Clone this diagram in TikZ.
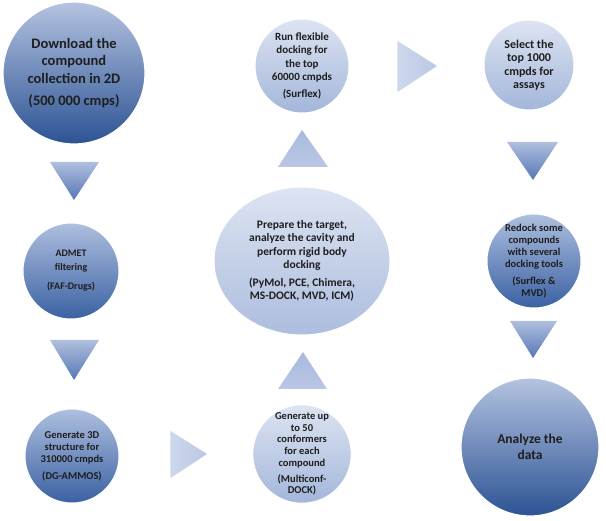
\documentclass[tikz,border=0pt]{standalone}
\usepackage{fontspec}
\setmainfont{Carlito}
\usepackage{tikz}
\usetikzlibrary{shapes.geometric}
\usepackage{xcolor}

\definecolor{darktop}{HTML}{B4C3E0}
\definecolor{darkbot}{HTML}{2C5394}
\definecolor{midtop}{HTML}{AEBFDF}
\definecolor{midbot}{HTML}{3A61A2}
\definecolor{lighttop}{HTML}{DDE4F2}
\definecolor{lightbot}{HTML}{A3B6DA}
\definecolor{tritop}{HTML}{AFBFDE}
\definecolor{tribot}{HTML}{5677B5}
\definecolor{trilight}{HTML}{B9C7E4}
\definecolor{triup}{HTML}{A9BADD}
\definecolor{txt}{HTML}{1E1E1E}

\begin{document}
\begin{tikzpicture}[x=1pt, y=-1pt,
  bigball/.style={circle, top color=darktop, bottom color=darkbot, draw=white, line width=1.2pt,
    align=center, text=txt, inner sep=0pt},
  midball/.style={circle, top color=midtop, bottom color=midbot, draw=white, line width=1pt,
    align=center, text=txt, inner sep=0pt, font=\bfseries\fontsize{10.5}{12}\selectfont},
  lightball/.style={circle, top color=lighttop, bottom color=lightbot, draw=white, line width=1pt,
    align=center, text=txt, inner sep=0pt, font=\bfseries\fontsize{11}{13.2}\selectfont},
  downtri/.style={top color=tritop, bottom color=tribot},
  uptri/.style={top color=triup, bottom color=trilight},
  sidetri/.style={left color=trilight!70!white, right color=trilight, draw=white, line width=0.8pt}]
  \useasboundingbox (0,0) rectangle (606,521);

  % left column
  \node[bigball, minimum size=142pt, font=\bfseries\fontsize{14.5}{17.5}\selectfont] (dl) at (74,73)
    {Download the\\compound\\collection in 2D\\[5pt](500 000 cmps)};
  \shade[downtri] (50,162) -- (99,162) -- (74,200) -- cycle;
  \node[midball, minimum size=96pt, font=\bfseries\fontsize{10}{14}\selectfont] (admet) at (71,271)
    {ADMET\\filtering\\[5pt](FAF-Drugs)};
  \shade[downtri] (50,340) -- (99,340) -- (74,380) -- cycle;
  \node[midball, minimum size=94pt] (gen3d) at (72,456)
    {Generate 3D\\structure for\\310000 cmpds\\[5pt](DG-AMMOS)};
  \shade[sidetri] (170,430) -- (208,454) -- (170,479) -- cycle;

  % middle column
  \node[lightball, minimum size=94pt, font=\bfseries\fontsize{10.5}{11.7}\selectfont] (conf) at (302,454)
    {Generate up\\to 50\\conformers\\for each\\compound\\[4pt](Multiconf-\\DOCK)};
  \shade[uptri] (278,389) -- (303,352) -- (327,389) -- cycle;
  \node[ellipse, top color=lighttop, bottom color=lightbot!90!white, draw=white, line width=1pt,
    minimum width=176pt, minimum height=148pt, inner sep=0pt, align=center, text=txt,
    font=\bfseries\fontsize{11.5}{13.5}\selectfont] (prep) at (302,261)
    {Prepare the target,\\analyze the cavity and\\perform rigid body\\docking\\[4pt](PyMol, PCE, Chimera,\\MS-DOCK, MVD, ICM)};
  \shade[uptri] (278,167) -- (302,130) -- (328,167) -- cycle;
  \node[lightball, minimum size=94pt] (flex) at (302,66)
    {Run flexible\\docking for\\the top\\60000 cmpds\\[4pt](Surflex)};
  \shade[sidetri] (397,40) -- (438,66) -- (397,93) -- cycle;

  % right column
  \node[lightball, minimum size=90pt, font=\bfseries\fontsize{12}{13.5}\selectfont] (sel) at (529,65)
    {Select the\\top 1000\\cmpds for\\assays};
  \shade[downtri] (507,142) -- (558,142) -- (533,180) -- cycle;
  \node[midball, minimum size=94pt] (redock) at (534,261)
    {Redock some\\compounds\\with several\\docking tools\\[5pt](Surflex \&\\MVD)};
  \shade[downtri] (510,321) -- (557,321) -- (533,358) -- cycle;
  \node[bigball, minimum size=138pt, font=\bfseries\fontsize{13.5}{15.5}\selectfont] (data) at (530,447)
    {Analyze the\\data};
\end{tikzpicture}
\end{document}
